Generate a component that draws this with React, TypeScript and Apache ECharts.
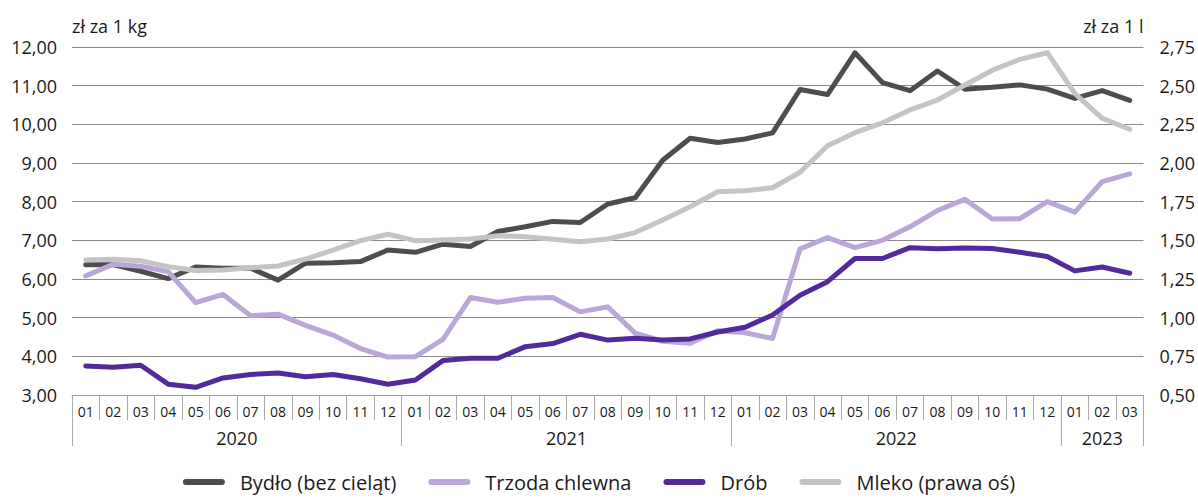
import React, { useEffect, useRef } from "react";
import * as echarts from "echarts";

const months = [
  "01", "02", "03", "04", "05", "06", "07", "08", "09", "10", "11", "12",
  "01", "02", "03", "04", "05", "06", "07", "08", "09", "10", "11", "12",
  "01", "02", "03", "04", "05", "06", "07", "08", "09", "10", "11", "12",
  "01", "02", "03",
];
const years = ["2020", "2021", "2022", "2023"];
const yearMonthCounts = [12, 12, 12, 3];

const leftTicks = { min: 3, max: 12, interval: 1 };
const rightTicks = { min: 0.5, max: 2.75, interval: 0.25 };

const bydlo = [
  6.37, 6.37, 6.2, 6.01, 6.31, 6.28, 6.28, 5.97, 6.41, 6.42, 6.45, 6.75,
  6.69, 6.9, 6.84, 7.23, 7.35, 7.49, 7.46, 7.94, 8.1, 9.07, 9.64, 9.53,
  9.62, 9.78, 10.9, 10.77, 11.85, 11.08, 10.87, 11.38, 10.91, 10.96, 11.02, 10.91,
  10.67, 10.87, 10.62,
];
const trzoda = [
  6.08, 6.38, 6.33, 6.19, 5.39, 5.6, 5.05, 5.09, 4.8, 4.55, 4.2, 3.98,
  3.99, 4.44, 5.52, 5.4, 5.5, 5.52, 5.15, 5.28, 4.6, 4.39, 4.34, 4.66,
  4.61, 4.46, 6.78, 7.07, 6.81, 7.0, 7.35, 7.77, 8.06, 7.55, 7.56, 8.0,
  7.73, 8.52, 8.72,
];
const drob = [
  3.75, 3.72, 3.77, 3.28, 3.2, 3.44, 3.53, 3.57, 3.47, 3.53, 3.42, 3.28,
  3.39, 3.89, 3.95, 3.95, 4.25, 4.33, 4.57, 4.42, 4.47, 4.42, 4.45, 4.63,
  4.75, 5.07, 5.58, 5.93, 6.53, 6.53, 6.81, 6.78, 6.8, 6.79, 6.69, 6.58,
  6.21, 6.31, 6.15,
];
const mleko = [
  1.373, 1.377, 1.368, 1.33, 1.305, 1.308, 1.323, 1.334, 1.379, 1.437, 1.498, 1.539,
  1.498, 1.502, 1.509, 1.53, 1.523, 1.507, 1.491, 1.509, 1.55, 1.631, 1.717, 1.814,
  1.821, 1.84, 1.94, 2.112, 2.196, 2.26, 2.343, 2.407, 2.504, 2.6, 2.67, 2.713,
  2.45, 2.289, 2.218,
];

const seriesNames = ["Bydło (bez cieląt)", "Trzoda chlewna", "Drób", "Mleko (prawa oś)"];
const seriesColors = ["#4d4d4d", "#b9a7d8", "#522a9c", "#c4c4c4"];

const FONT = "'Open Sans', 'Noto Sans', sans-serif";
const TEXT = "#1a1a1a";

function fmt(v: number) {
  return v.toFixed(2).replace(".", ",");
}

export default function App() {
  const ref = useRef<HTMLDivElement>(null);

  useEffect(() => {
    if (!ref.current) return;
    const chart = echarts.init(ref.current, undefined, { renderer: "svg" });

    const yearStarts: number[] = [];
    const yearCenters: number[] = [];
    let acc = 0;
    yearMonthCounts.forEach((c) => {
      yearStarts.push(acc);
      yearCenters.push(acc + c / 2);
      acc += c;
    });
    const yearBounds = [...yearStarts, acc];

    const legendIcon =
      "path://M3,0 L39,0 A3,3 0 0 1 39,6 L3,6 A3,3 0 0 1 3,0 Z";

    const dataSets = [bydlo, trzoda, drob, mleko];

    chart.setOption({
      animation: false,
      textStyle: { fontFamily: FONT },
      grid: { left: 72, right: 54, top: 47, bottom: 105, containLabel: false },
      legend: {
        top: 472,
        left: "center",
        padding: 0,
        itemWidth: 42,
        itemHeight: 6,
        itemGap: 32,
        icon: legendIcon,
        textStyle: { fontSize: 20, color: TEXT, fontFamily: FONT, padding: [0, 0, 0, 10] },
        data: seriesNames,
      },
      xAxis: [
        {
          type: "category",
          data: months,
          boundaryGap: true,
          position: "bottom",
          axisLine: { show: true, lineStyle: { color: "#9a9a9a", width: 1 } },
          axisTick: { show: true, interval: 0, length: 25, lineStyle: { color: "#aaaaaa", width: 1 } },
          axisLabel: { interval: 0, fontSize: 14, color: TEXT, margin: 9, fontFamily: FONT },
          splitLine: { show: false },
        },
        {
          type: "value",
          min: 0,
          max: acc,
          position: "bottom",
          offset: 25,
          axisLine: { show: false },
          axisTick: {
            show: true,
            customValues: yearBounds,
            length: 26,
            lineStyle: { color: "#aaaaaa", width: 1 },
          },
          axisLabel: {
            customValues: yearCenters,
            fontSize: 18,
            color: TEXT,
            margin: 9,
            fontFamily: FONT,
            formatter: (v: number) => {
              const i = yearCenters.findIndex((c) => Math.abs(c - v) < 1e-6);
              return i >= 0 ? years[i] : "";
            },
          },
          splitLine: { show: false },
        },
      ],
      yAxis: [
        {
          type: "value",
          position: "left",
          min: leftTicks.min,
          max: leftTicks.max,
          interval: leftTicks.interval,
          name: "zł za 1 kg",
          nameLocation: "end",
          nameGap: 21,
          nameTextStyle: { fontSize: 18, color: TEXT, align: "left", verticalAlign: "middle", fontFamily: FONT },
          axisLine: { show: false },
          axisTick: { show: false },
          axisLabel: { fontSize: 18, color: TEXT, margin: 15, formatter: fmt, fontFamily: FONT },
          splitLine: { show: true, lineStyle: { color: "#8a8a8a", width: 1 } },
        },
        {
          type: "value",
          position: "right",
          min: rightTicks.min,
          max: rightTicks.max,
          interval: rightTicks.interval,
          name: "zł za 1 l",
          nameLocation: "end",
          nameGap: 21,
          nameTextStyle: { fontSize: 18, color: TEXT, align: "right", verticalAlign: "middle", fontFamily: FONT },
          axisLine: { show: false },
          axisTick: { show: false },
          axisLabel: { fontSize: 18, color: TEXT, margin: 16, formatter: fmt, fontFamily: FONT },
          splitLine: { show: false },
        },
      ],
      series: dataSets.map((d, i) => ({
        name: seriesNames[i],
        type: "line",
        xAxisIndex: 0,
        yAxisIndex: i === 3 ? 1 : 0,
        data: d,
        symbol: "none",
        smooth: false,
        lineStyle: { width: 5, color: seriesColors[i], cap: "round", join: "round" },
        itemStyle: { color: seriesColors[i] },
        z: 2,
      })),
    });

    return () => chart.dispose();
  }, []);

  return (
    <div
      ref={ref}
      style={{ position: "absolute", left: 0, top: 0, width: 1198, height: 500 }}
    />
  );
}
